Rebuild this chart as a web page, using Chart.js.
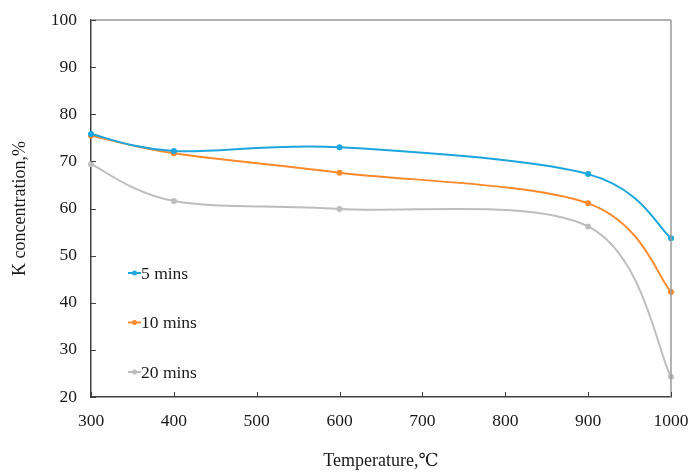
<!DOCTYPE html>
<html>
<head>
<meta charset="utf-8">
<script src="https://cdn.jsdelivr.net/npm/chart.js@4.4.1/dist/chart.umd.min.js"></script>
<style>
html,body{margin:0;padding:0;background:#fff;}
#wrap{width:690px;height:472px;position:relative;}
</style>
</head>
<body>
<div id="wrap"><canvas id="c" width="690" height="472"></canvas></div>
<script>
const temperatures = [300, 400, 600, 900, 1000];
const series5min = [75.8, 72.2, 73.0, 67.3, 53.7];
const series10min = [75.5, 71.7, 67.6, 61.1, 42.3];
const series20min = [69.4, 61.6, 59.9, 56.2, 24.3];
const seriesLabels = ['5 mins', '10 mins', '20 mins'];
const seriesColors = ['#1CA5DE', '#FB8A2C', '#BDBDBD'];
const xAxisTitle = 'Temperature,\u2103';
const yAxisTitle = 'K concentration,%';

const FONT = '"Liberation Serif", "DejaVu Serif", serif';

function pts(vals){ return temperatures.map((t,i)=>({x:t,y:vals[i]})); }

const allSeries = [series5min, series10min, series20min];
const datasets = allSeries.map((vals,i)=>({
  label: seriesLabels[i],
  data: pts(vals),
  borderColor: seriesColors[i],
  backgroundColor: seriesColors[i],
  borderWidth: 2,
  pointRadius: 3,
  pointBorderWidth: 0,
  tension: 0.3,
  clip: false
}));

// Excel-style smoothing: control points at 1/6 of neighbour chord
const excelSmooth = {
  id: 'excelSmooth',
  beforeDatasetsDraw(chart){
    chart.data.datasets.forEach((ds, di)=>{
      const meta = chart.getDatasetMeta(di);
      const line = meta.dataset;
      if (!line) return;
      line.updateControlPoints(chart.chartArea, 'x');
      const p = meta.data;
      const n = p.length;
      for (let i=0;i<n;i++){
        const prev = p[Math.max(0,i-1)], next = p[Math.min(n-1,i+1)];
        const dx = (next.x - prev.x)/6, dy = (next.y - prev.y)/6;
        p[i].cp1x = p[i].x - dx; p[i].cp1y = p[i].y - dy;
        p[i].cp2x = p[i].x + dx; p[i].cp2y = p[i].y + dy;
      }
      line._path = undefined;
    });
  }
};

const framePlugin = {
  id: 'frame',
  afterDraw(chart){
    const {ctx, chartArea:{left,right,top,bottom}, scales:{x,y}} = chart;
    ctx.save();
    ctx.lineWidth = 1.5;
    ctx.strokeStyle = '#9a9a9a';
    ctx.beginPath();
    ctx.moveTo(left, top); ctx.lineTo(right, top);
    ctx.moveTo(right, top); ctx.lineTo(right, bottom);
    ctx.stroke();
    ctx.lineWidth = 1;
    ctx.strokeStyle = '#404040';
    ctx.beginPath();
    x.ticks.forEach(t=>{
      const px = Math.round(x.getPixelForValue(t.value))+0.5;
      ctx.moveTo(px, bottom); ctx.lineTo(px, bottom-5);
    });
    y.ticks.forEach(t=>{
      const py = Math.round(y.getPixelForValue(t.value))+0.5;
      ctx.moveTo(left, py); ctx.lineTo(left+5, py);
    });
    ctx.stroke();
    // legend inside plot
    const lx = 128, ly0 = 273, gap = 49.5;
    chart.data.datasets.forEach((ds,i)=>{
      const yy = ly0 + i*gap;
      ctx.strokeStyle = ds.borderColor;
      ctx.lineWidth = 2;
      ctx.beginPath(); ctx.moveTo(lx, yy); ctx.lineTo(lx+13, yy); ctx.stroke();
      ctx.fillStyle = ds.borderColor;
      ctx.beginPath(); ctx.arc(lx+6.5, yy, 2.5, 0, Math.PI*2); ctx.fill();
      ctx.fillStyle = '#1a1a1a';
      ctx.font = '17.5px ' + FONT;
      ctx.textBaseline = 'middle';
      ctx.textAlign = 'left';
      ctx.fillText(ds.label, lx+13, yy+1);
    });
    ctx.restore();
  }
};

new Chart(document.getElementById('c'), {
  type: 'line',
  data: { datasets },
  options: {
    responsive: false,
    animation: false,
    layout: { padding: { left: 0, right: 19, top: 20, bottom: 0 } },
    plugins: { legend: { display: false }, tooltip: { enabled: false } },
    scales: {
      x: {
        type: 'linear', min: 300, max: 1000,
        ticks: { stepSize: 100, color: '#1a1a1a', font: { family: FONT, size: 17.5 }, padding: 14,
                 callback: v => String(v) },
        grid: { display: false, drawTicks: false },
        border: { display: true, color: '#404040', width: 1.5 },
        title: { display: true, text: xAxisTitle, color: '#1a1a1a', font: { family: FONT, size: 18 }, padding: { top: 15, bottom: 0 } },
        afterFit(scale){ scale.height = 75; scale.paddingLeft = 0; scale.paddingRight = 0; }
      },
      y: {
        type: 'linear', min: 20, max: 100,
        ticks: { stepSize: 10, color: '#1a1a1a', font: { family: FONT, size: 17.5 }, padding: 14 },
        grid: { display: false, drawTicks: false },
        border: { display: true, color: '#404040', width: 1.5 },
        title: { display: true, text: yAxisTitle, color: '#1a1a1a', font: { family: FONT, size: 18 }, padding: { top: 9, bottom: 0 } },
        afterFit(scale){ scale.width = 91; scale.paddingTop = 0; scale.paddingBottom = 0; }
      }
    }
  },
  plugins: [excelSmooth, framePlugin]
});
</script>
</body>
</html>
